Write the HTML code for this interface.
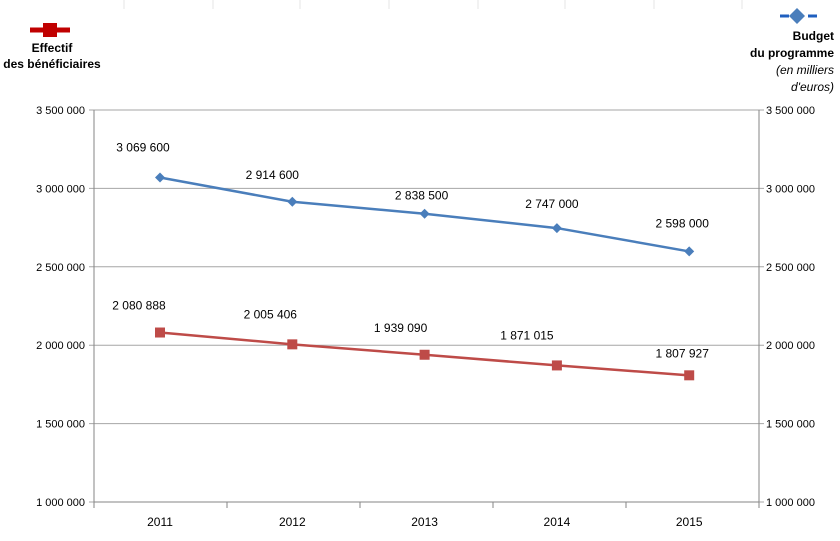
<!DOCTYPE html>
<html><head><meta charset="utf-8"><style>
body{margin:0;background:#fff;}
svg{display:block;font-family:"Liberation Sans",sans-serif;}
</style></head><body>
<svg id="chart" width="840" height="541" xmlns="http://www.w3.org/2000/svg"></svg>
<script>
const categories=["2011","2012","2013","2014","2015"];
const budget=[3069600,2914600,2838500,2747000,2598000];
const effectif=[2080888,2005406,1939090,1871015,1807927];
const yTicks=[1000000,1500000,2000000,2500000,3000000,3500000];
const budgetLabels=["3 069 600","2 914 600","2 838 500","2 747 000","2 598 000"];
const effectifLabels=["2 080 888","2 005 406","1 939 090","1 871 015","1 807 927"];

const svg=document.getElementById('chart');
const NS='http://www.w3.org/2000/svg';
const L=94,R=759,T=110,B=502;
const x=i=>160+132.3*i;
const y=v=>B-(v-1000000)/2500000*(B-T);
const fmt=v=>String(v).replace(/\B(?=(\d{3})+(?!\d))/g,' ');
// label placement offsets (pixels, relative to marker)
const bOff=[[-17,-30],[-20,-27],[-3,-18],[-5,-24],[-7,-28]];
const eOff=[[-21,-27],[-22,-30],[-24,-27],[-30,-30],[-7,-22]];
function el(t,a,txt){const e=document.createElementNS(NS,t);for(const k in a)e.setAttribute(k,a[k]);if(txt!=null)e.textContent=txt;svg.appendChild(e);return e;}

[124,213,300,389,478,565,654,742].forEach(px=>{
 const e=el('line',{x1:px,x2:px,y1:0,y2:9,stroke:'#e6e6e6','stroke-width':1});
 
 
});

yTicks.forEach(v=>{
 const g=el('line',{x1:L-5,x2:R+5,y1:y(v),y2:y(v),stroke:'#a6a6a6','stroke-width':1});
 
 
 const a=el('text',{x:L-9,y:y(v)+4,'text-anchor':'end','font-size':11,fill:'#000'},fmt(v));
 
 
 const b=el('text',{x:R+7,y:y(v)+4,'font-size':11,fill:'#000'},fmt(v));
 
 
});
let ax=el('line',{x1:L,x2:L,y1:T,y2:B,stroke:'#868686'});
ax=el('line',{x1:R,x2:R,y1:T,y2:B,stroke:'#868686'});
ax=el('line',{x1:L,x2:R,y1:B,y2:B,stroke:'#868686'});
for(let i=0;i<=categories.length;i++){
 const px=L+(R-L)/categories.length*i;
 const t=el('line',{x1:px,x2:px,y1:B,y2:B+6,stroke:'#868686'});
 
 
}
categories.forEach((c,i)=>{
 const t=el('text',{x:x(i),y:B+24,'text-anchor':'middle','font-size':12},c);
 
 
});

let pl=el('polyline',{points:budget.map((v,i)=>x(i)+','+y(v)).join(' '),fill:'none',stroke:'#4a7ebb','stroke-width':2.5});

budget.forEach((v,i)=>{
 const cx=x(i),cy=y(v);
 const m=el('polygon',{points:`${cx},${cy-5} ${cx+5},${cy} ${cx},${cy+5} ${cx-5},${cy}`,fill:'#4a7ebb'});
 
 
 const t=el('text',{x:cx+bOff[i][0],y:cy+bOff[i][1]+4,'text-anchor':'middle','font-size':12},budgetLabels[i]);
 
 
});
pl=el('polyline',{points:effectif.map((v,i)=>x(i)+','+y(v)).join(' '),fill:'none',stroke:'#be4b48','stroke-width':2.5});

effectif.forEach((v,i)=>{
 const cx=x(i),cy=y(v);
 const m=el('rect',{x:cx-5,y:cy-5,width:10,height:10,fill:'#be4b48'});
 
 
 const t=el('text',{x:cx+eOff[i][0],y:cy+eOff[i][1]+4,'text-anchor':'middle','font-size':12},effectifLabels[i]);
 
 
});

let lg=el('line',{x1:30,x2:70,y1:30,y2:30,stroke:'#c00000','stroke-width':5});
lg=el('rect',{x:43,y:23,width:14,height:14,fill:'#c00000'});
lg=el('text',{x:52,y:52,'text-anchor':'middle','font-size':12,'font-weight':'bold'},'Effectif');
lg=el('text',{x:52,y:68,'text-anchor':'middle','font-size':12,'font-weight':'bold'},'des bénéficiaires');

lg=el('line',{x1:780,x2:817,y1:16,y2:16,stroke:'#1f5fbf','stroke-width':3,'stroke-dasharray':'9 5'});
lg=el('polygon',{points:'797,8 805,16 797,24 789,16',fill:'#4a7ebb'});
const rt=[['Budget',40,'bold','normal'],['du programme',57,'bold','normal'],['(en milliers',74,'normal','italic'],["d'euros)",91,'normal','italic']];
rt.forEach(r=>{
 const t=el('text',{x:834,y:r[1],'text-anchor':'end','font-size':12,'font-weight':r[2],'font-style':r[3]},r[0]);
 
 
});
</script>
</body></html>
